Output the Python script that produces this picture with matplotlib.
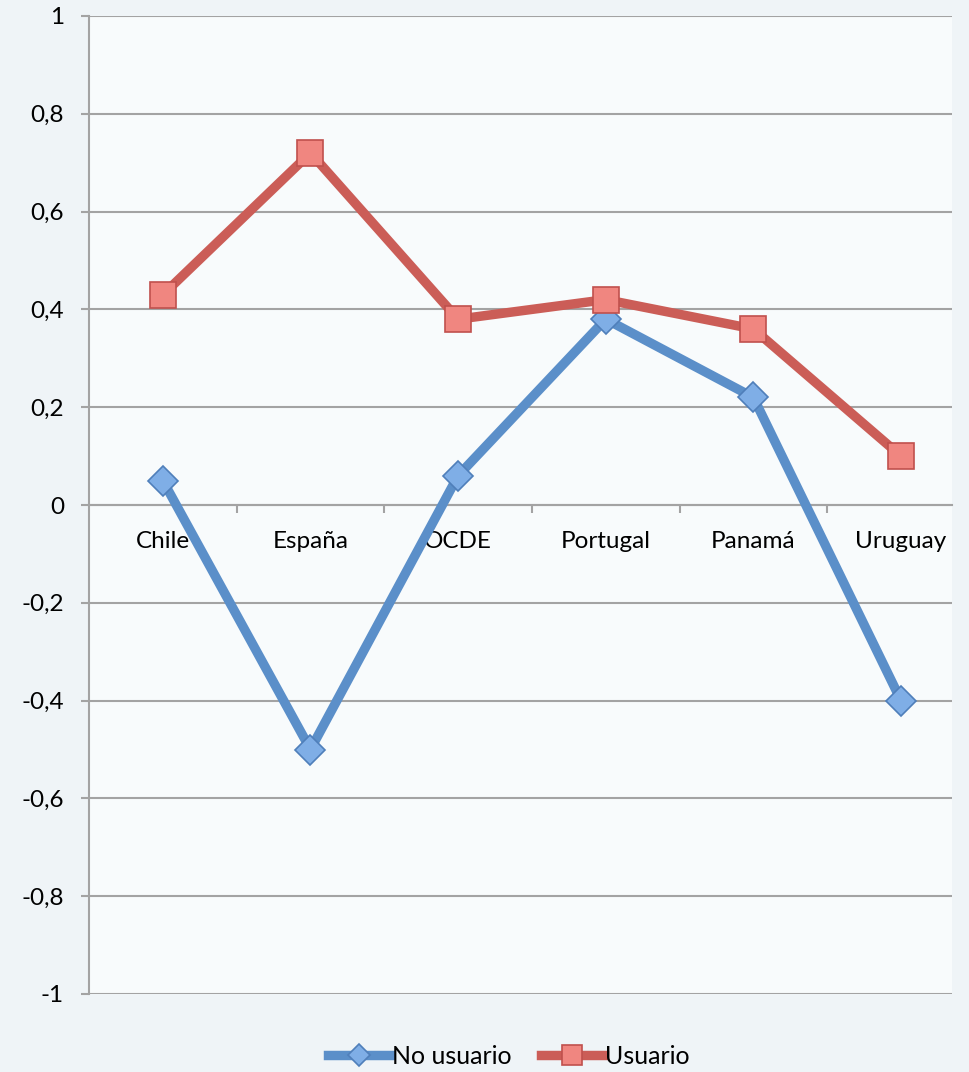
import matplotlib.pyplot as plt
from matplotlib.ticker import FixedLocator, FuncFormatter

categories = ["Chile", "España", "OCDE", "Portugal", "Panamá", "Uruguay"]
no_usuario = [0.05, -0.50, 0.06, 0.38, 0.22, -0.40]
usuario = [0.43, 0.72, 0.38, 0.42, 0.36, 0.10]
y_ticks = [-1.0, -0.8, -0.6, -0.4, -0.2, 0.0, 0.2, 0.4, 0.6, 0.8, 1.0]

plt.rcParams["font.family"] = ["Lato", "DejaVu Sans"]

fig = plt.figure(figsize=(9.69, 10.72), dpi=100, facecolor="#EFF4F7")
ax = fig.add_axes([89 / 969, 1 - 994 / 1072, 863 / 969, 978 / 1072])
ax.set_facecolor("#F8FBFC")

x = list(range(len(categories)))
ax.plot(x, no_usuario, color="#5B8FC9", linewidth=6.8, marker="D",
        markersize=15, markerfacecolor="#7FAEE6", markeredgecolor="#4F7FBA",
        markeredgewidth=1.2, label="No usuario", zorder=3)
ax.plot(x, usuario, color="#CB5D57", linewidth=6.8, marker="s",
        markersize=19, markerfacecolor="#F08680", markeredgecolor="#C0504D",
        markeredgewidth=1.2, label="Usuario", zorder=3)

ax.set_xlim(-0.5, 5.345)
ax.set_ylim(-1, 1)

ax.yaxis.set_major_locator(FixedLocator(y_ticks))
ax.yaxis.set_major_formatter(
    FuncFormatter(lambda v, _: f"{v:g}".replace(".", ",") if abs(v) > 1e-9 else "0"))
ax.grid(axis="y", color="#A3A3A3", linewidth=1.5, zorder=1)
ax.tick_params(axis="y", length=6, width=1.5, color="#A3A3A3", pad=12,
               labelsize=17.5, labelcolor="black")

# category axis sits on the zero line
ax.spines["bottom"].set_position(("data", 0))
ax.spines["bottom"].set_color("#A3A3A3")
ax.spines["bottom"].set_linewidth(1.5)
ax.set_xticks(x)
ax.set_xticklabels(categories)
ax.set_xticks([i + 0.5 for i in x[:-1]], minor=True)
ax.tick_params(axis="x", which="major", length=0, pad=19, labelsize=17.5)
ax.tick_params(axis="x", which="minor", length=6, width=1.5, color="#A3A3A3",
               direction="out")

ax.spines["left"].set_color("#A3A3A3")
ax.spines["left"].set_linewidth(1.5)
for side in ["top", "right"]:
    ax.spines[side].set_visible(False)

fig.legend(loc="lower center", bbox_to_anchor=(0.525, -0.017), ncol=2,
           frameon=False, fontsize=18, handlelength=2.5, handletextpad=0.05,
           columnspacing=1.2, markerscale=0.75)

fig.savefig("out.png", dpi=100, facecolor=fig.get_facecolor())
